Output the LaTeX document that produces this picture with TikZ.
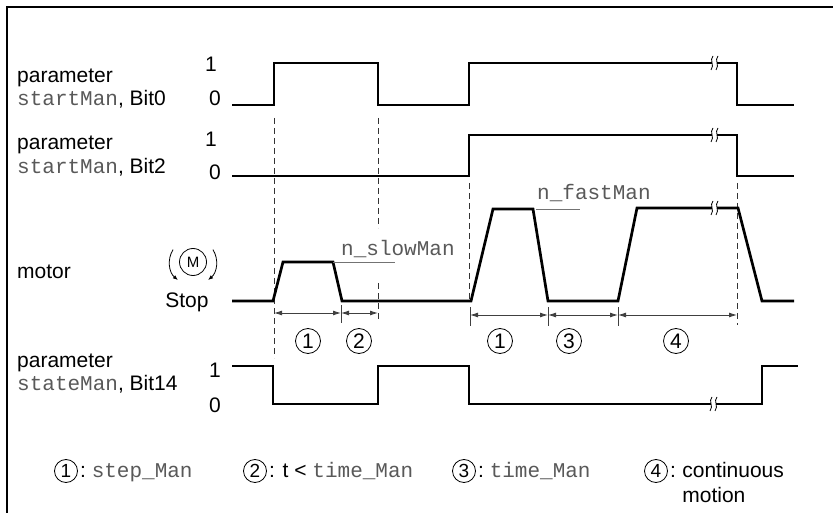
\documentclass[tikz,border=0pt]{standalone}
\usepackage{fontspec}
\setmainfont{Liberation Sans}
\setmonofont{Liberation Mono}
\usetikzlibrary{
    arrows.meta,
    calc
}
\newcommand{\code}[1]{{\ttfamily\color{black!65}#1}}

\begin{document}
\begin{tikzpicture}[x=1pt,y=-1pt,
    every node/.style={font=\fontsize{21}{25}\selectfont, inner sep=0pt},
    sig/.style={line width=2.7pt, line join=miter},
    guide/.style={line width=0.8pt, black!80, dash pattern=on 6pt off 4pt},
    dim/.style={line width=0.9pt, black!75, {Latex[length=8pt,width=5pt]}-{Latex[length=8pt,width=5pt]}},
    tick/.style={line width=0.9pt, black!75},
    leader/.style={line width=0.8pt, black!55},
    num/.style={circle, draw, line width=0.8pt, minimum size=25pt},
    key/.style={circle, draw, line width=0.8pt, minimum size=23pt, font=\fontsize{19}{22}\selectfont},
    lbl/.style={anchor=base west},
    lvl/.style={anchor=base}
]

\useasboundingbox (0,0) rectangle (833,513);

% Frame
\draw[line width=1.4pt] (7,513) -- (7,7) -- (833,7);

% Signal names
\node[lbl] (parA) at (17,83) {parameter};
\node[lbl] (bitA) at (17,106) {\code{startMan}, Bit0};
\node[lbl] (parB) at (17,150) {parameter};
\node[lbl] (bitB) at (17,174) {\code{startMan}, Bit2};
\node[lbl] (motor) at (17,279) {motor};
\node[lbl] (parC) at (17,367) {parameter};
\node[lbl] (bitC) at (17,390) {\code{stateMan}, Bit14};

% Levels
\node[lvl] (hiA) at (211,72) {1};
\node[lvl] (loA) at (215,106) {0};
\node[lvl] (hiB) at (211,147) {1};
\node[lvl] (loB) at (215,180) {0};
\node[lvl] (hiC) at (215,377) {1};
\node[lvl] (loC) at (215,412) {0};
\node[lvl] (stop) at (187,308) {Stop};

% Motor symbol
\node[circle, draw, line width=0.8pt, minimum size=27pt, font=\fontsize{15}{17}\selectfont] (mot) at (193,262) {M};
\draw[line width=0.8pt, -{Latex[length=5pt,width=4pt]}]
    ([shift={(148:23.5pt)}]mot.center) arc[start angle=148, end angle=230, radius=23.5pt];
\draw[line width=0.8pt, -{Latex[length=5pt,width=4pt]}]
    ([shift={(32:23.5pt)}]mot.center) arc[start angle=32, end angle=-50, radius=23.5pt];

% Guide lines
\draw[guide] (274,118) -- (274,358);
\draw[guide] (378,118) -- (378,228);
\draw[guide] (378,283) -- (378,322);
\draw[guide] (469,183) -- (469,300);
\draw[guide] (737,183) -- (737,325);

% Signals
\draw[sig] (232,105) -- (274,105) -- (274,63) -- (378,63) -- (378,105) -- (469,105)
    -- (469,63) -- (737,63) -- (737,105) -- (794,105);
\draw[sig] (232,176) -- (469,176) -- (469,135) -- (737,135) -- (737,176) -- (794,176);
\draw[sig] (232,301) -- (273,301) -- (283,262) -- (333,262) -- (342,301) -- (471,301)
    -- (493,209) -- (533,209) -- (548,301) -- (618,301) -- (637,208) -- (738,208)
    -- (762,301) -- (794,301);
\draw[sig] (232,366) -- (273,366) -- (273,404) -- (378,404) -- (378,366) -- (469,366)
    -- (469,404) -- (762,404) -- (762,366) -- (798,366);

% Break marks
\foreach \bx/\by in {714/63,714/135,714/208,713/404} {
    \fill[white] (\bx-2.5,\by-4) rectangle (\bx+2.5,\by+4);
    \draw[line width=0.8pt] (\bx-1,\by-7) .. controls (\bx-5,\by-3) and (\bx+1,\by+2) .. (\bx-3,\by+7);
    \draw[line width=0.8pt] (\bx+4,\by-7) .. controls (\bx,\by-3) and (\bx+6,\by+2) .. (\bx+2,\by+7);
}

% Speed labels
\node[lbl] (slow) at (341,255) {\code{n\_slowMan}};
\draw[leader] (333,262) -- (395,262);
\node[lbl] (fast) at (537,200) {\code{n\_fastMan}};
\draw[leader] (536,209) -- (580,209);

% Time spans
\coordinate (a0) at (274,313);
\coordinate (a1) at (341,313);
\coordinate (a2) at (378,313);
\coordinate (b0) at (470,315);
\coordinate (b1) at (548,315);
\coordinate (b2) at (618,315);
\coordinate (b3) at (737,315);
\draw[tick] ($(a1)+(0,-8)$) -- ($(a1)+(0,10)$);
\foreach \c in {b0,b1,b2}
    \draw[tick] ($(\c)+(0,-8)$) -- ($(\c)+(0,11)$);
\draw[dim] (a0) -- (a1);
\draw[dim] (a1) -- (a2);
\draw[dim] (b0) -- (b1);
\draw[dim] (b1) -- (b2);
\draw[dim] (b2) -- (b3);

\node[num] (sa1) at (308,341) {1};
\node[num] (sa2) at (359,341) {2};
\node[num] (sb1) at (500,341) {1};
\node[num] (sb3) at (569,341) {3};
\node[num] (sb4) at (676,341) {4};

% Legend
\node[key] (k1) at (66,471) {1};
\node[lbl] (t1) at ($(k1.east)+(2,6)$) {:~\code{step\_Man}};
\node[key] (k2) at (255,471) {2};
\node[lbl] (t2) at ($(k2.east)+(2,6)$) {: t < \code{time\_Man}};
\node[key] (k3) at (464,471) {3};
\node[lbl] (t3) at ($(k3.east)+(2,6)$) {:~\code{time\_Man}};
\node[key] (k4) at (656,471) {4};
\node[lbl] (t4) at ($(k4.east)+(2,6)$) {:};
\node[lbl] (t4b) at ($(t4.base east)+(6,0)$) {continuous};
\node[lbl] (t4c) at ($(t4b.base west)+(0,25)$) {motion};

\end{tikzpicture}
\end{document}
